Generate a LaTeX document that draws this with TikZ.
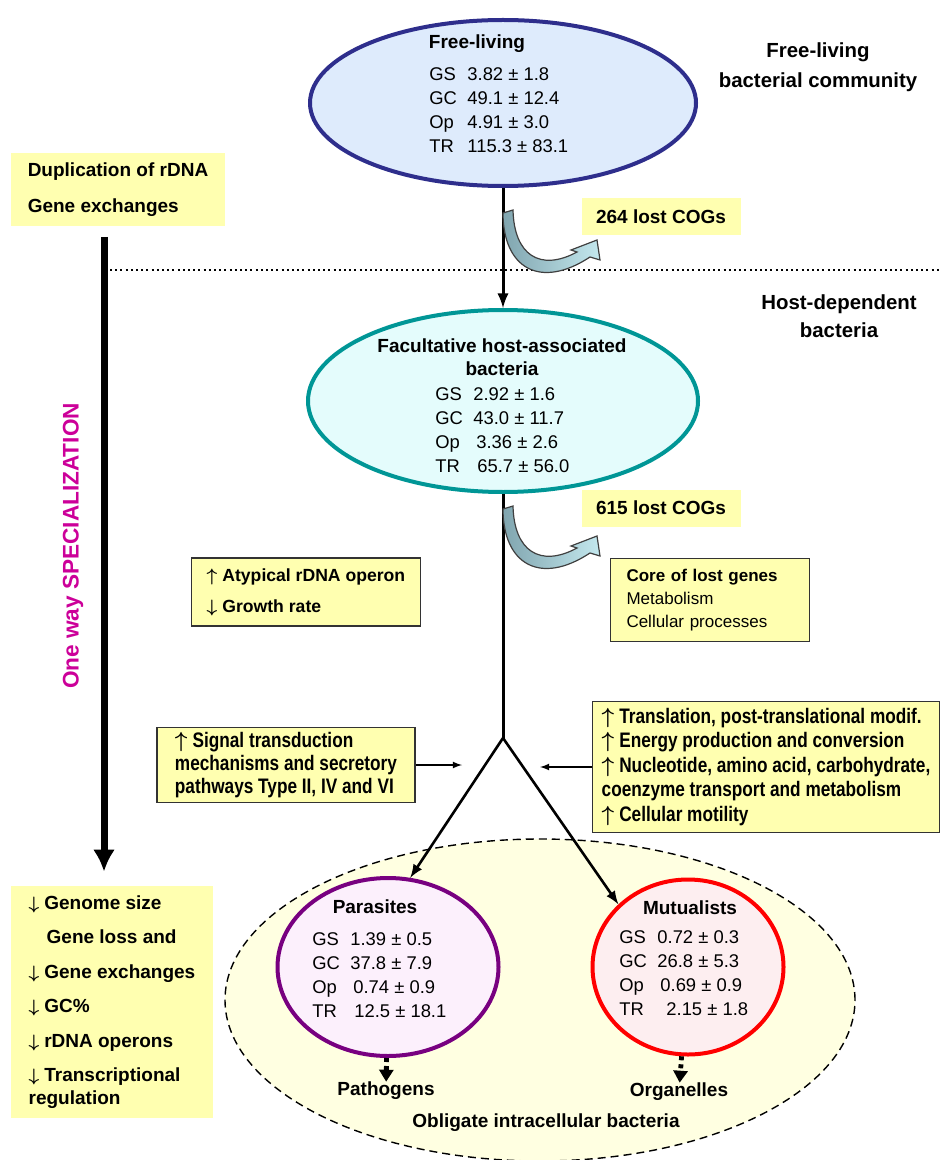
\documentclass[tikz,border=0pt]{standalone}
\usepackage{fontspec}
\setmainfont{Liberation Sans}
\newfontfamily\narrowfont[FakeStretch=0.82]{Liberation Sans}
\usetikzlibrary{shapes.geometric, arrows.meta, positioning}

\definecolor{flfill}{RGB}{222,235,252}
\definecolor{fldraw}{RGB}{46,46,140}
\definecolor{facfill}{RGB}{228,252,252}
\definecolor{facdraw}{RGB}{0,150,150}
\definecolor{parfill}{RGB}{252,240,252}
\definecolor{pardraw}{RGB}{120,0,128}
\definecolor{mutfill}{RGB}{253,238,240}
\definecolor{mutdraw}{RGB}{255,0,0}
\definecolor{oblfill}{RGB}{255,255,225}
\definecolor{boxyellow}{RGB}{255,255,176}
\definecolor{specmag}{RGB}{204,0,153}
\definecolor{lossfill}{RGB}{196,232,238}
\definecolor{lossdark}{RGB}{128,165,175}

\newcommand{\statline}[2]{\makebox[19pt][l]{#1}#2}
\newcommand{\incr}{{\boldmath$\uparrow$}\hspace{2.5pt}}
\newcommand{\decr}{{\boldmath$\downarrow$}\hspace{2.5pt}}

\begin{document}
\begin{tikzpicture}[x=0.5pt, y=-0.5pt, >=latex,
  group/.style={ellipse, line width=2pt, inner sep=0},
  title/.style={font=\bfseries\fontsize{9.5}{11.5}\selectfont, align=center, inner sep=0},
  stats/.style={font=\fontsize{9.2}{11.9}\selectfont, align=left, anchor=west, inner sep=0},
  ybox/.style={fill=boxyellow, inner sep=0, align=left},
  framed/.style={draw=black!80, line width=0.9pt},
  flow/.style={line width=1.5pt, ->},
  lossarrow/.style={draw=black!75, line width=0.6pt, left color=lossdark, right color=lossfill},
  fate/.style={line width=2.4pt, dash pattern=on 2pt off 2pt, -{Triangle[length=6pt,width=7pt]}}]
  \useasboundingbox (0,0) rectangle (940,1160);

  % obligate intracellular area
  \node[ellipse, draw, fill=oblfill, line width=0.7pt, dash pattern=on 4pt off 2.5pt,
    minimum width=315pt, minimum height=161pt, inner sep=0] (obl) at (540,1000) {};

  % the four groups
  \node[group, draw=fldraw, fill=flfill, minimum width=193pt, minimum height=83pt] (free) at (503,103) {};
  \node[group, draw=facdraw, fill=facfill, minimum width=195pt, minimum height=91pt] (fac) at (503,401) {};
  \node[group, draw=pardraw, fill=parfill, minimum width=110.5pt, minimum height=89pt] (par) at (388,967) {};
  \node[group, draw=mutdraw, fill=mutfill, minimum width=95.5pt, minimum height=87.5pt] (mut) at (688,967) {};

  \node[title] (freetitle) at (477,44) {Free-living};
  \node[stats] (freestats) at (429,110) {\statline{GS}{3.82 ± 1.8}\\ \statline{GC}{49.1 ± 12.4}\\
    \statline{Op}{4.91 ± 3.0}\\ \statline{TR}{115.3 ± 83.1}};
  \node[title] (factitle) at (502,357) {Facultative host-associated\\bacteria};
  \node[stats] (facstats) at (435,430) {\statline{GS}{2.92 ± 1.6}\\ \statline{GC}{43.0 ± 11.7}\\
    \statline{Op}{\hspace{1.5pt}3.36 ± 2.6}\\ \statline{TR}{\hspace{2pt}65.7 ± 56.0}};
  \node[title] (partitle) at (375,907) {Parasites};
  \node[stats] (parstats) at (312,975) {\statline{GS}{1.39 ± 0.5}\\ \statline{GC}{37.8 ± 7.9}\\
    \statline{Op}{\hspace{1.5pt}0.74 ± 0.9}\\ \statline{TR}{\hspace{2pt}12.5 ± 18.1}};
  \node[title] (muttitle) at (690,908) {Mutualists};
  \node[stats] (mutstats) at (619,973) {\statline{GS}{0.72 ± 0.3}\\ \statline{GC}{26.8 ± 5.3}\\
    \statline{Op}{\hspace{1.5pt}0.69 ± 0.9}\\ \statline{TR}{\hspace{4.5pt}2.15 ± 1.8}};

  \node[title] (patho) at (386,1091) {Pathogens};
  \node[title] (organ) at (679,1092) {Organelles};
  \node[title] (obltitle) at (546,1123) {Obligate intracellular bacteria};

  % side headings
  \node[title, font=\bfseries\fontsize{10.2}{15}\selectfont] (freehead) at (818,67) {Free-living\\bacterial community};
  \node[title, font=\bfseries\fontsize{10.2}{14}\selectfont] (hosthead) at (839,316) {Host-dependent\\bacteria};
  \draw[line width=1pt, dash pattern=on 1pt off 1.6pt] (110,270) -- (940,270);

  % boxes
  \node[ybox, font=\bfseries\fontsize{9.5}{18}\selectfont, minimum width=107pt, minimum height=36.5pt] (dup) at (118,190)
    {Duplication of rDNA\\Gene exchanges};
  \node[ybox, font=\bfseries\fontsize{9.5}{11.5}\selectfont, align=center, minimum width=79.5pt, minimum height=18.5pt] (lost264) at (661,217) {264 lost COGs};
  \node[ybox, font=\bfseries\fontsize{9.5}{11.5}\selectfont, align=center, minimum width=79.5pt, minimum height=18.5pt] (lost615) at (661,508) {615 lost COGs};
  \node[ybox, framed, font=\fontsize{8.5}{11.5}\selectfont, inner xsep=8pt, text width=83.5pt, minimum height=41.5pt] (core) at (710,600)
    {\textbf{Core of lost genes}\\Metabolism\\Cellular processes};
  \node[ybox, framed, font=\bfseries\fontsize{8.8}{15.5}\selectfont, minimum width=114.5pt, minimum height=34pt] (atyp) at (306,592)
    {\incr Atypical rDNA operon\\\decr Growth rate};
  \node[ybox, framed, font=\narrowfont\bfseries\fontsize{10.5}{11.3}\selectfont, minimum width=129pt, minimum height=37.5pt] (sig) at (286,765)
    {\incr Signal transduction\\mechanisms and secretory\\pathways Type II, IV and VI};
  \node[ybox, framed, font=\narrowfont\bfseries\fontsize{10.5}{12.25}\selectfont, minimum width=173.5pt, minimum height=65.5pt] (func) at (766,767)
    {\incr Translation, post-translational modif.\\\incr Energy production and conversion\\\incr Nucleotide, amino acid, carbohydrate,\\coenzyme transport and metabolism\\\incr Cellular motility};
  \node[ybox, font=\bfseries\fontsize{9.5}{17.25}\selectfont, minimum width=101pt, minimum height=116pt] (loss) at (112,1002)
    {\decr Genome size\\\hspace*{9pt}Gene loss and\\\decr Gene exchanges\\\decr GC\%\\\decr rDNA operons\\\decr Transcriptional\\[-6pt]regulation};

  % one way specialization
  \node[rotate=90, text=specmag, font=\bfseries\fontsize{11.3}{13}\selectfont, inner sep=0] (spec) at (73,546) {One way SPECIALIZATION};
  \draw[line width=3.5pt, -{Latex[length=11pt,width=11pt]}, shorten <=5pt, shorten >=7pt]
    ([xshift=-7pt]dup.south) -- ([xshift=-4pt]loss.north);

  % main lineage
  \coordinate (fork) at (503,738);
  \draw[flow] (free) -- (fac);
  \draw[line width=1.5pt] (fac) -- (fork);
  \draw[line width=1.3pt, ->] (fork) -- (par.76);
  \draw[line width=1.3pt, ->] (fork) -- (mut.138);
  \draw[fate] (par) -- (patho);
  \draw[fate] (mut) -- (organ);

  % influences on the fork
  \coordinate (sigend) at (462,765);
  \coordinate (funcend) at (540,767);
  \draw[line width=0.6pt, ->] (sig) -- (sigend);
  \draw[line width=0.6pt, ->] (func) -- (funcend);

  % lost genes
  \foreach \dy in {0,296} {
    \begin{scope}[shift={(0,\dy)}]
      \draw[lossarrow] (503,213) .. controls (503,268) and (540,290) .. (590,257) -- (600,260) -- (597,240)
        -- (571,250) -- (577,252) .. controls (540,272) and (514,255) .. (513,210) -- cycle;
    \end{scope}
  }
\end{tikzpicture}
\end{document}
